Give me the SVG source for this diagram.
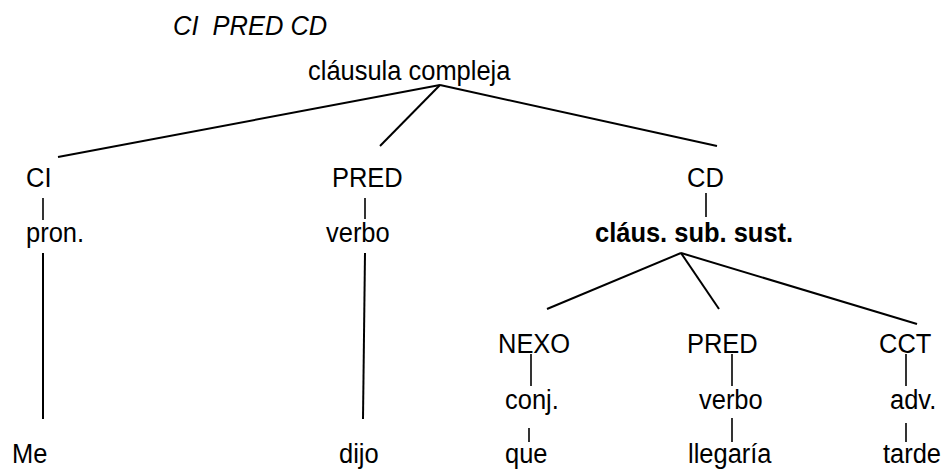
<svg xmlns="http://www.w3.org/2000/svg" width="943" height="470" viewBox="0 0 943 470">
<style>
.t{font-family:"Liberation Sans",Arial,sans-serif;font-size:28px;fill:#000;white-space:pre}
.b{font-weight:bold}
.i{font-style:italic}
.c line{stroke:#000;stroke-width:2;stroke-linecap:butt}
.c .s{stroke-width:1.6}
</style>
<rect width="943" height="470" fill="#fff"/>
<text class="t i" xml:space="preserve" transform="translate(173,35) scale(0.91,1)">CI  PRED CD</text>
<g id="root"><text class="t" transform="translate(308,80) scale(0.91,1)">cláusula compleja</text></g>
<g id="ci"><text class="t" transform="translate(26,187) scale(0.91,1)">CI</text></g>
<g id="pred"><text class="t" transform="translate(332,187) scale(0.91,1)">PRED</text></g>
<g id="cd"><text class="t" transform="translate(687,187) scale(0.91,1)">CD</text></g>
<g id="pron"><text class="t" transform="translate(26,242) scale(0.91,1)">pron.</text></g>
<g id="verbo1"><text class="t" transform="translate(326,242) scale(0.91,1)">verbo</text></g>
<g id="claus"><text class="t b" transform="translate(595,242) scale(0.91,1)">cláus. sub. sust.</text></g>
<g id="nexo"><text class="t" transform="translate(498,353) scale(0.91,1)">NEXO</text></g>
<g id="pred2"><text class="t" transform="translate(687,353) scale(0.91,1)">PRED</text></g>
<g id="cct"><text class="t" transform="translate(879,353) scale(0.91,1)">CCT</text></g>
<g id="conj"><text class="t" transform="translate(505,409) scale(0.91,1)">conj.</text></g>
<g id="verbo2"><text class="t" transform="translate(699,409) scale(0.91,1)">verbo</text></g>
<g id="adv"><text class="t" transform="translate(890,409) scale(0.91,1)">adv.</text></g>
<g id="me"><text class="t" transform="translate(12,463) scale(0.91,1)">Me</text></g>
<g id="dijo"><text class="t" transform="translate(339,463) scale(0.91,1)">dijo</text></g>
<g id="que"><text class="t" transform="translate(505,463) scale(0.91,1)">que</text></g>
<g id="llegaria"><text class="t" transform="translate(688,463) scale(0.91,1)">llegaría</text></g>
<g id="tarde"><text class="t" transform="translate(883,463) scale(0.91,1)">tarde</text></g>
<g id="connectors" class="c">
<line x1="440" y1="85" x2="58" y2="157"/>
<line x1="440" y1="85" x2="380" y2="146"/>
<line x1="440" y1="85" x2="717" y2="146"/>
<line class="s" x1="43" y1="198" x2="43" y2="220"/>
<line class="s" x1="365" y1="198" x2="365" y2="219"/>
<line class="s" x1="706" y1="193" x2="706" y2="217"/>
<line x1="43" y1="253" x2="43" y2="419"/>
<line x1="365" y1="253" x2="363" y2="419"/>
<line x1="681" y1="253" x2="547" y2="309"/>
<line x1="681" y1="253" x2="719" y2="309"/>
<line x1="681" y1="253" x2="917" y2="324"/>
<line class="s" x1="531" y1="354" x2="531" y2="386"/>
<line class="s" x1="732" y1="354" x2="732" y2="386"/>
<line class="s" x1="906" y1="354" x2="906" y2="386"/>
<line class="s" x1="529" y1="428" x2="529" y2="442"/>
<line class="s" x1="732" y1="418" x2="732" y2="442"/>
<line class="s" x1="906" y1="423" x2="906" y2="442"/>
</g>
</svg>
